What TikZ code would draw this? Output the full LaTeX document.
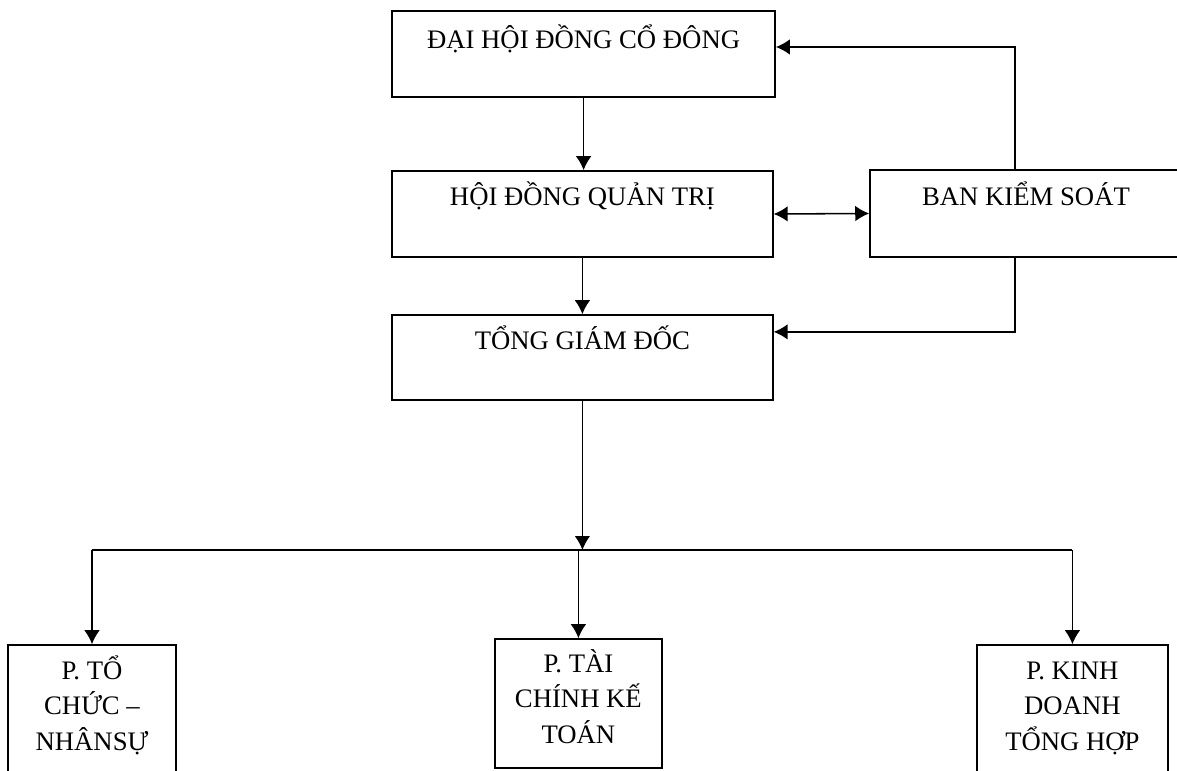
\documentclass[tikz,border=0pt]{standalone}
\usepackage{fontspec}
\setmainfont{Liberation Serif}
\usetikzlibrary{arrows.meta}

\begin{document}
\begin{tikzpicture}[>={Latex[length=3.5mm,width=3.9mm]}, line width=1.1pt,
  box/.style={draw, rectangle, inner sep=0pt, anchor=base, font=\fontsize{19}{23}\selectfont},
  dept/.style={box, align=center, font=\fontsize{19}{24.9}\selectfont}]
\useasboundingbox (0,0) rectangle (29.425,19.25);
\node[box, minimum width=9.575cm, text height=0.95cm, text depth=1.2cm] (dhcd) at (14.59,18.025) {ĐẠI HỘI ĐỒNG CỔ ĐÔNG};
\node[box, minimum width=9.525cm, text height=0.875cm, text depth=1.275cm] (hdqt) at (14.56,14.1) {HỘI ĐỒNG QUẢN TRỊ};
\node[box, minimum width=7.8cm, text height=0.9cm, text depth=1.275cm] (bks) at (25.65,14.1) {BAN KIỂM SOÁT};
\node[box, minimum width=9.525cm, text height=0.875cm, text depth=1.25cm] (tgd) at (14.56,10.5) {TỔNG GIÁM ĐỐC};

% phong ban: base = dong cuoi
\node[dept, minimum width=4.2cm, text height=2.625cm, text depth=0.625cm] (tcns) at (2.3,0.5) {P. TỔ\\CHỨC –\\NHÂNSỰ};
\node[dept, minimum width=4.175cm, text height=2.6cm, text depth=0.625cm] (tckt) at (14.46,0.675) {P. TÀI\\CHÍNH KẾ\\TOÁN};
\node[dept, minimum width=4.775cm, text height=2.625cm, text depth=0.625cm] (kdth) at (26.81,0.5) {P. KINH\\DOANH\\TỔNG HỢP};

\draw[->] (dhcd.south) -- (dhcd.south |- hdqt.north);
\draw[<->] (hdqt.east) -- (bks.west);
\draw[->] (hdqt.south) -- (hdqt.south |- tgd.north);
\draw[->] ([xshift=-0.275cm]bks.north) |- ([yshift=0.175cm]dhcd.east);
\draw[->] ([xshift=-0.275cm]bks.south) |- ([yshift=0.64cm]tgd.east);

\coordinate (bus) at (14.5,5.5);
\draw[->] (tgd.south) -- (tgd.south |- bus);
\draw (bus -| tcns.north) -- (bus -| kdth.north);
\foreach \d in {tcns, tckt, kdth}
  \draw[->] (bus -| \d.north) -- (\d.north);
\end{tikzpicture}
\end{document}
